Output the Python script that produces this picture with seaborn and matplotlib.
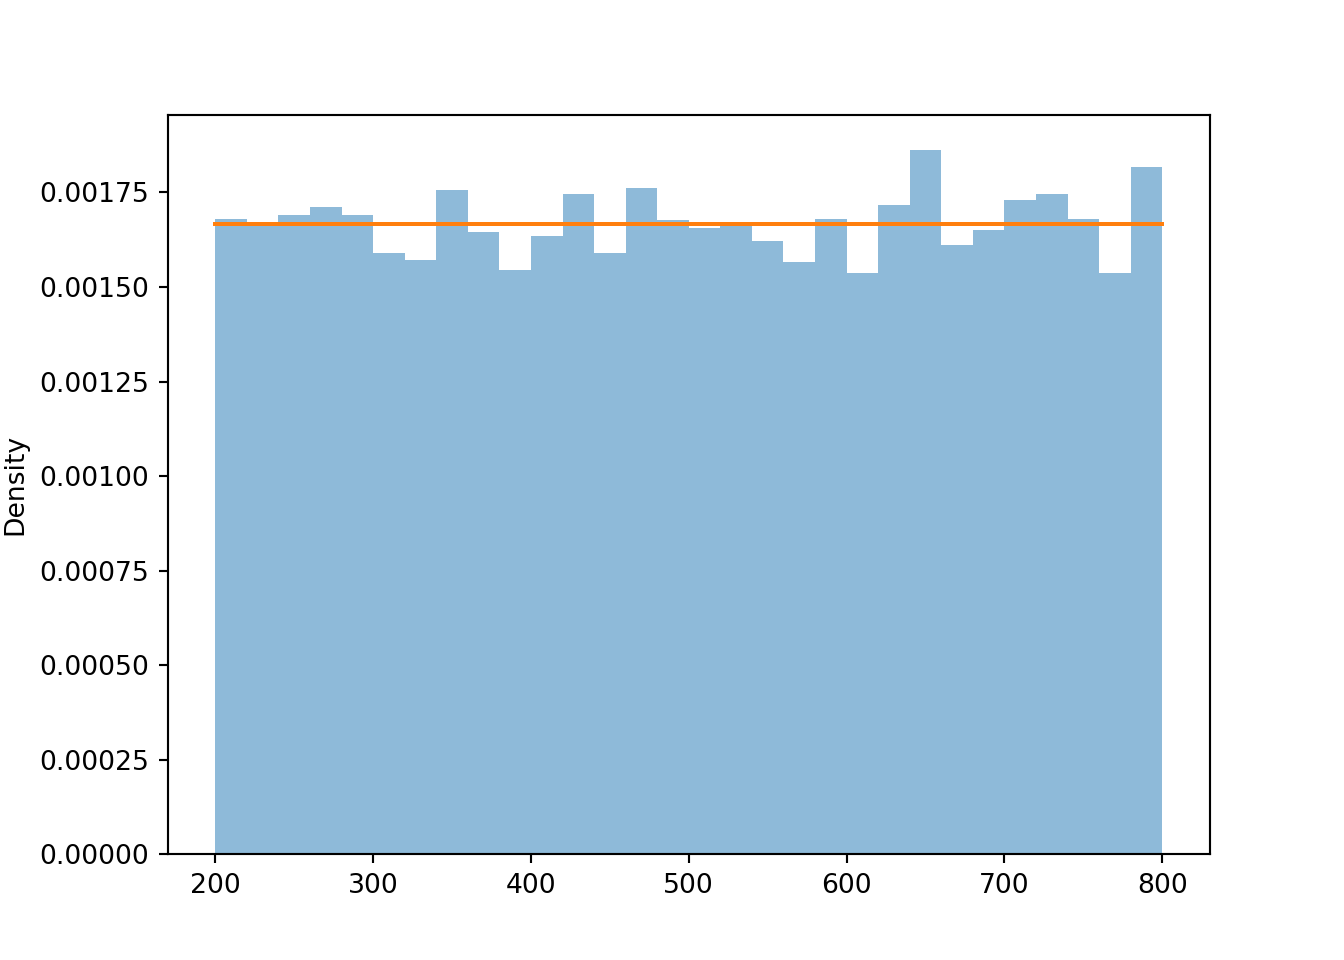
import numpy as np
import pandas as pd

import matplotlib
matplotlib.use("Agg")
import matplotlib.pyplot as plt
import seaborn as sns

# histogram of uniform(200, 800) samples, 30 bins, density heights
n_bins = 30
bin_range = (200, 800)
density = [0.0016786, 0.0016654, 0.0016892, 0.0017104, 0.0016892,
           0.0015888, 0.0015703, 0.0017553, 0.0016443, 0.0015438,
           0.0016337, 0.0017447, 0.0015888, 0.0017606, 0.0016760,
           0.0016548, 0.0016600, 0.0016205, 0.0015650, 0.0016786,
           0.0015359, 0.0017157, 0.0018610, 0.0016099, 0.0016496,
           0.0017289, 0.0017447, 0.0016786, 0.0015359, 0.0018161]

# theoretical pdf of the uniform distribution
pdf_x = [200, 800]
pdf_y = [1 / 600, 1 / 600]

bin_edges = np.linspace(bin_range[0], bin_range[1], n_bins + 1)
centers = (bin_edges[:-1] + bin_edges[1:]) / 2
df = pd.DataFrame({"value": centers, "density": density})

fig, ax = plt.subplots(figsize=(7, 5), dpi=192)
sns.histplot(data=df, x="value", weights="density", bins=n_bins, binrange=bin_range,
             stat="count", color="C0", alpha=0.5, linewidth=0, ax=ax)
sns.lineplot(x=pdf_x, y=pdf_y, color="C1", linewidth=1.5, ax=ax)

ax.set_ylabel("Density")
ax.set_xlabel("")
ax.set_ylim(0, None)

fig.savefig("out.png", dpi=192)
